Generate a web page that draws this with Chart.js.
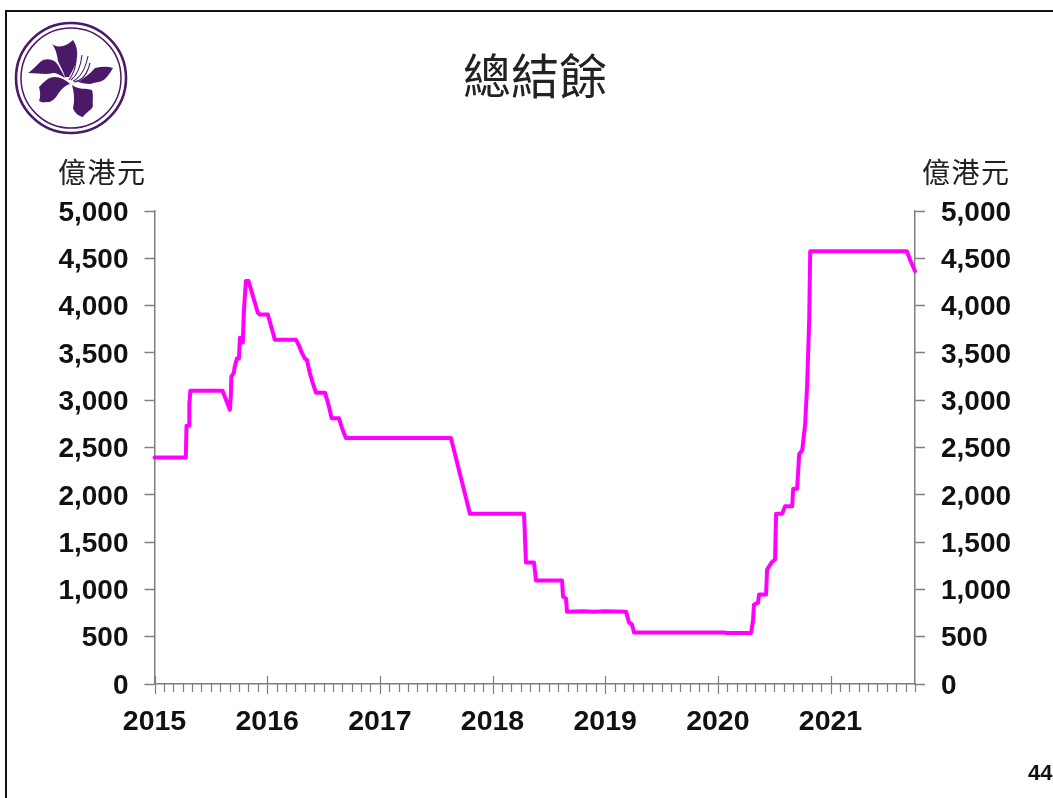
<!DOCTYPE html>
<html lang="zh-Hant"><head><meta charset="utf-8">
<script src="https://cdn.jsdelivr.net/npm/chart.js@4"></script>
<style>
html,body{margin:0;padding:0;background:#fff;width:1053px;height:798px;overflow:hidden}
#wrap{position:absolute;left:0;top:0;width:1053px;height:798px;overflow:hidden;filter:blur(.45px)}
#frame{position:absolute;left:5px;top:10px;width:1060px;height:800px;border:2px solid #111;box-sizing:border-box}
canvas{position:absolute;left:0;top:0}
.t{position:absolute;font-family:"Noto Sans CJK TC","Noto Sans CJK SC",sans-serif;color:#222;white-space:nowrap;line-height:1;font-weight:400}
#title{left:463px;top:49px;font-size:48px}
.unit{top:157px;font-size:28px;letter-spacing:1.5px}
#page{position:absolute;left:1028px;top:760px;font:bold 22px "Liberation Sans",Arial,sans-serif;color:#111}
svg{position:absolute;left:0;top:0}
</style></head><body>
<div id="wrap">
<div id="frame"></div>
<canvas id="c" width="1053" height="798"></canvas>
<svg width="140" height="145" viewBox="0 0 140 145">
<g fill="none" stroke="#4a1a68"><circle cx="71" cy="78" r="55" stroke-width="2.6"/><circle cx="71" cy="78" r="50" stroke-width="1.5"/></g>
<g fill="#4a1a68">
<path d="M52 44C60 49 66 46 73 40C78 47 78 56 76 62C74 69 71 73 69 77L65 77C63 70 60 66 58 61C57 55 56 49 52 44Z"/>
<path d="M28 73C34 69 38 63 43 60C50 58 55 60 58 65C60 69 63 73 65 78C60 75 57 73 53 73C46 75 38 73 28 73Z"/>
<path d="M39 87C44 82 48 77 55 77C60 77 66 80 70 84C64 86 61 90 58 94C55 99 51 103 46 102C43 103 41 102 39 101C41 96 40 91 39 87Z"/>
<path d="M72 85C78 90 86 88 92 90C94 96 92 101 93 106C91 111 86 112 83 117C78 116 74 112 73 108C75 100 74 92 72 85Z"/>
<path d="M78 82C84 78 90 74 95 68C101 67 107 66 113 68C110 73 108 76 105 79C100 83 95 82 90 84C86 84 82 83 78 82Z"/>
</g>
<g fill="none" stroke="#4a1a68" stroke-width="1.1"><path d="M69 80Q76 70 76 60M71 80Q80 73 82 55M73 81Q84 76 88 56M74 82Q86 80 90 63"/></g>
</svg>
<div id="title" class="t">總結餘</div>
<div class="t unit" style="left:58px">億港元</div>
<div class="t unit" style="left:922px">億港元</div>
<div id="page">44</div>
</div>
<script>
const years = [2015,2015.278,2015.284,2015.307,2015.309,2015.318,2015.604,2015.669,2015.678,2015.682,2015.704,2015.713,2015.731,2015.740,2015.749,2015.758,2015.775,2015.784,2015.793,2015.811,2015.835,2015.864,2015.917,2015.935,2016.006,2016.068,2016.255,2016.285,2016.308,2016.335,2016.353,2016.379,2016.405,2016.433,2016.513,2016.545,2016.572,2016.637,2016.663,2016.699,2017.631,2017.800,2018.280,2018.297,2018.368,2018.386,2018.617,2018.626,2018.652,2018.661,2018.800,2018.900,2019.000,2019.185,2019.212,2019.238,2019.256,2020.055,2020.080,2020.295,2020.312,2020.321,2020.357,2020.366,2020.428,2020.437,2020.481,2020.508,2020.517,2020.571,2020.597,2020.660,2020.669,2020.704,2020.722,2020.749,2020.775,2020.793,2020.811,2020.820,2021.678,2021.708,2021.750];
const balance = [2395,2395,2730,2730,2950,3100,3100,2900,3060,3250,3290,3360,3440,3440,3440,3660,3660,3610,3930,4260,4260,4140,3925,3905,3905,3640,3640,3570,3500,3440,3425,3285,3180,3080,3080,2950,2810,2810,2710,2600,2600,1800,1800,1285,1285,1095,1095,925,905,765,770,765,770,765,650,630,545,545,540,540,670,840,860,945,945,1210,1290,1315,1800,1800,1880,1880,2065,2065,2430,2470,2750,3170,3850,4575,4575,4480,4365];
const yTicks = [0,500,1000,1500,2000,2500,3000,3500,4000,4500,5000];
const yearLabels = [2015,2016,2017,2018,2019,2020,2021];
const axisGrey = '#7f7f7f';
const yFont = {family:'"Liberation Sans",Arial,sans-serif',size:28,weight:'bold'};
const xFont = {family:'"Liberation Sans",Arial,sans-serif',size:28.5,weight:'bold'};
const pts = years.map((x,i)=>({x,y:balance[i]}));
const yAxis = (position,width,pad)=>({
  type:'linear',position,min:0,max:5000,
  afterBuildTicks:s=>{s.ticks=yTicks.map(v=>({value:v}))},
  afterFit:s=>{s.width=width},
  border:{display:true,color:axisGrey,width:1.5},
  grid:{drawOnChartArea:false,drawTicks:true,tickLength:10,color:axisGrey,tickWidth:1.5},
  ticks:{color:'#111',font:yFont,autoSkip:false,padding:pad,crossAlign:'near',
    callback:v=>v.toLocaleString('en-US')}
});
const labelNudge={id:'labelNudge',beforeDraw(ch){
  ['y','y2','x'].forEach(k=>{
    const dy=k==='x'?3:2;
    ch.scales[k].getLabelItems().forEach(it=>{
      if(!it._nudged){it.options.translation=[it.options.translation[0],it.options.translation[1]+dy];it._nudged=true;}
    });
  });
}};
const xTicksPlugin={id:'xTicks',afterDatasetsDraw(ch){
  const s=ch.scales.x,c=ch.ctx,b=ch.chartArea.bottom;
  c.save();c.strokeStyle=axisGrey;c.lineWidth=1.2;
  const n=Math.round((s.max-2015)*12);
  for(let i=0;i<=n;i++){
    const v=2015+i/12,p=Math.round(s.getPixelForValue(v))+.5,major=i%12===0;
    c.beginPath();c.moveTo(p,major?b-8:b);c.lineTo(p,major?b+10:b+8);c.stroke();
  }
  c.restore();
}};
new Chart(document.getElementById('c'),{
  type:'line',
  data:{datasets:[{data:pts,borderColor:'#ff00ff',borderWidth:4,pointRadius:0,tension:0,fill:false,borderJoinStyle:'round',borderCapStyle:'round',clip:false}]},
  plugins:[labelNudge,xTicksPlugin],
  options:{
    responsive:false,animation:false,devicePixelRatio:1,
    layout:{padding:{top:211,left:0,right:0,bottom:0}},
    plugins:{legend:{display:false},tooltip:{enabled:false},title:{display:false}},
    scales:{
      x:{type:'linear',min:2015,max:2021.75,
        afterBuildTicks:s=>{s.ticks=yearLabels.map(v=>({value:v}))},
        afterFit:s=>{s.height=798-684},
        border:{display:true,color:axisGrey,width:1.5},
        grid:{display:false},
        ticks:{color:'#111',font:xFont,autoSkip:false,maxRotation:0,padding:10,callback:v=>String(v)}},
      y:yAxis('left',154.5,16),
      y2:yAxis('right',1053-915,16)
    }
  }
});
</script>
</body></html>
